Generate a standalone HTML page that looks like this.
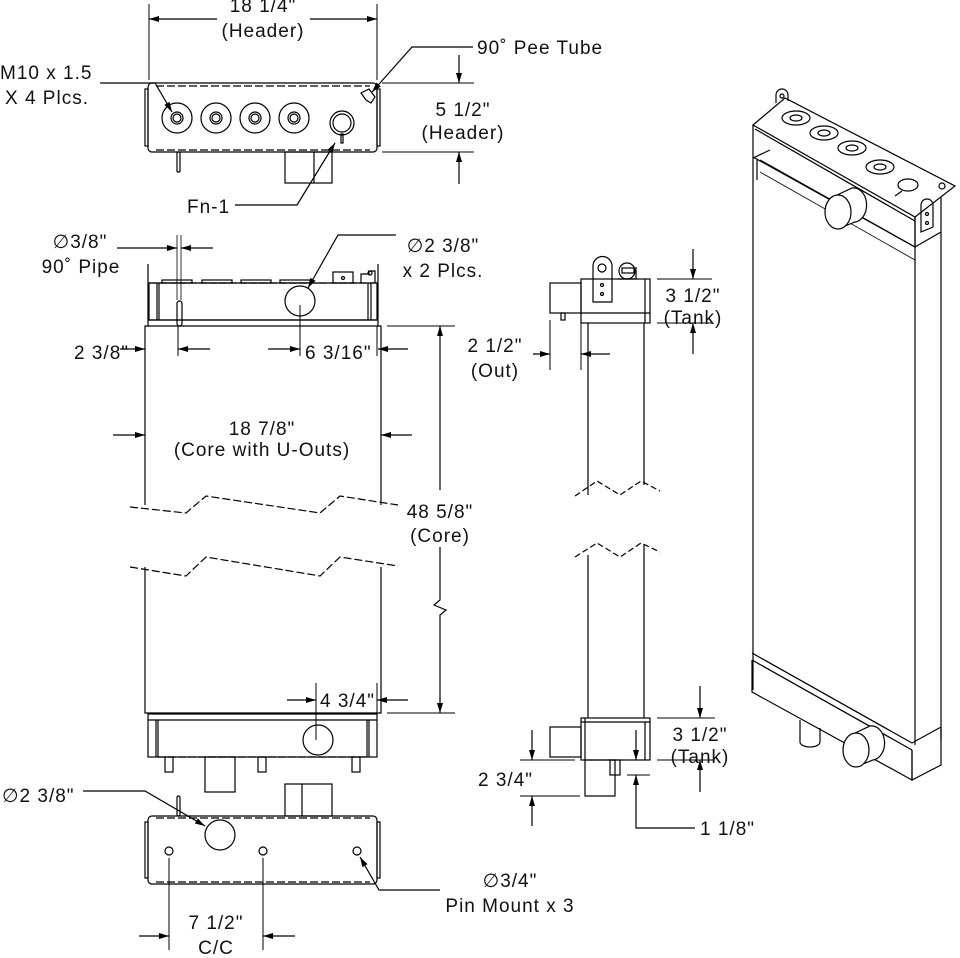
<!DOCTYPE html>
<html><head><meta charset="utf-8"><style>
html,body{margin:0;padding:0;background:#fff}
svg{display:block}
text{font-family:"Liberation Sans",sans-serif;font-size:19px;letter-spacing:1px;fill:#111}
</style></head><body>
<svg width="960" height="958" viewBox="0 0 960 958" xmlns="http://www.w3.org/2000/svg">
<defs>
<marker id="a" viewBox="0 0 10 6" refX="10" refY="3" markerWidth="14" markerHeight="6" markerUnits="userSpaceOnUse" orient="auto"><path d="M0,0L10,3L0,6z" fill="#000"/></marker>
</defs>
<g fill="none" stroke="#000" stroke-width="1.2">
<!-- TOP VIEW -->
<rect x="148" y="83" width="229" height="69" rx="4"/>
<rect x="145" y="89" width="3" height="57"/><rect x="377" y="89" width="3" height="57"/>
<line x1="156" y1="86" x2="370" y2="86" stroke-dasharray="8,3"/>
<line x1="156" y1="150" x2="370" y2="150" stroke-dasharray="8,3"/>
<circle cx="177" cy="118" r="15"/><circle cx="177" cy="118" r="6"/><circle cx="177" cy="118" r="4"/>
<circle cx="216" cy="118" r="15"/><circle cx="216" cy="118" r="6"/><circle cx="216" cy="118" r="4"/>
<circle cx="255" cy="118" r="15"/><circle cx="255" cy="118" r="6"/><circle cx="255" cy="118" r="4"/>
<circle cx="294" cy="118" r="15"/><circle cx="294" cy="118" r="6"/><circle cx="294" cy="118" r="4"/>
<circle cx="342" cy="123" r="12"/><circle cx="342" cy="123" r="9"/>
<rect x="341" y="134" width="2" height="9"/>
<path d="M361,93l8,-4l6,8l-4,6l-5,-3z"/>
<rect x="177" y="152" width="3" height="20" rx="1"/>
<rect x="285" y="152" width="47" height="31"/><line x1="314" y1="152" x2="314" y2="183"/>
<!-- top dims -->
<line x1="149" y1="4" x2="149" y2="80" stroke-width="1"/><line x1="377" y1="4" x2="377" y2="80" stroke-width="1"/>
<line x1="217" y1="19" x2="149" y2="19" marker-end="url(#a)"/>
<line x1="310" y1="19" x2="377" y2="19" marker-end="url(#a)"/>
<path d="M100,83H155L172,112" marker-end="url(#a)"/>
<path d="M473,47H412L372,92" marker-end="url(#a)"/>
<line x1="382" y1="83" x2="474" y2="83" stroke-width="1"/><line x1="382" y1="152" x2="474" y2="152" stroke-width="1"/>
<line x1="459" y1="55" x2="459" y2="83" marker-end="url(#a)"/>
<line x1="459" y1="184" x2="459" y2="152" marker-end="url(#a)"/>
<path d="M235,205H297L335,143" marker-end="url(#a)"/>

<!-- FRONT VIEW TOP TANK -->
<line x1="148" y1="264" x2="148" y2="326"/><line x1="378" y1="264" x2="378" y2="326"/>
<line x1="149" y1="283" x2="377" y2="283" stroke-dasharray="8,2"/>
<rect x="149" y="283" width="228" height="37"/>
<line x1="157" y1="283" x2="157" y2="320"/><line x1="159" y1="283" x2="159" y2="320"/>
<line x1="368" y1="283" x2="368" y2="320"/><line x1="371" y1="283" x2="371" y2="320"/>
<rect x="162" y="280" width="30" height="3"/><rect x="202" y="280" width="30" height="3"/><rect x="241" y="280" width="30" height="3"/><rect x="280" y="280" width="30" height="3"/>
<rect x="333" y="272" width="20" height="11"/><circle cx="343" cy="278" r="1.5"/>
<path d="M361,283v-9h8v-3h6v12"/><circle cx="370" cy="273" r="2"/>
<circle cx="300" cy="301" r="15"/>
<rect x="177" y="301" width="5" height="25" rx="2.5"/>
<line x1="177" y1="235" x2="177" y2="300" stroke-width="0.8"/><line x1="181" y1="235" x2="181" y2="300" stroke-width="0.8"/>
<line x1="148" y1="320" x2="378" y2="320"/>
<!-- core -->
<path d="M145,505V326H381V505"/>
<path d="M145,567V713H381V567"/>
<path d="M130,507L186,513L206,496L320,513L340,496L398,505" stroke-dasharray="8,3"/>
<path d="M130,567L186,576L206,557L320,576L340,557L398,566" stroke-dasharray="8,3"/>
<!-- bottom tank -->
<rect x="148" y="714" width="229" height="43"/>
<line x1="148" y1="720" x2="377" y2="720"/>
<line x1="156" y1="720" x2="156" y2="757"/><line x1="158" y1="720" x2="158" y2="757"/>
<line x1="367" y1="720" x2="367" y2="757"/><line x1="369" y1="720" x2="369" y2="757"/>
<line x1="158" y1="757" x2="367" y2="757" stroke-dasharray="8,2"/>
<circle cx="318" cy="740" r="15"/>
<rect x="165" y="757" width="8" height="15"/><rect x="258" y="757" width="8" height="15"/><rect x="352" y="757" width="8" height="15"/>
<rect x="205" y="757" width="30" height="35"/>
<!-- front dims -->
<line x1="117" y1="248" x2="177" y2="248" marker-end="url(#a)"/>
<line x1="213" y1="248" x2="181" y2="248" marker-end="url(#a)"/>
<path d="M396,235H338L308,288" marker-end="url(#a)"/>
<line x1="145" y1="326" x2="145" y2="356" stroke-width="1"/><line x1="178" y1="326" x2="178" y2="356" stroke-width="1"/>
<line x1="120" y1="349" x2="145" y2="349" marker-end="url(#a)"/>
<line x1="210" y1="349" x2="178" y2="349" marker-end="url(#a)"/>
<line x1="300" y1="305" x2="300" y2="356" stroke-width="1"/><line x1="377" y1="326" x2="377" y2="356" stroke-width="1"/>
<line x1="268" y1="349" x2="300" y2="349" marker-end="url(#a)"/>
<line x1="408" y1="349" x2="378" y2="349" marker-end="url(#a)"/>
<line x1="113" y1="435" x2="145" y2="435" marker-end="url(#a)"/>
<line x1="412" y1="435" x2="381" y2="435" marker-end="url(#a)"/>
<line x1="387" y1="326" x2="455" y2="326" stroke-width="1"/><line x1="387" y1="713" x2="455" y2="713" stroke-width="1"/>
<line x1="440" y1="490" x2="440" y2="326" marker-end="url(#a)"/>
<path d="M440,547V600L434,605L446,610L440,615V713" marker-end="url(#a)"/>
<line x1="316" y1="683" x2="316" y2="740" stroke-width="1"/><line x1="377" y1="683" x2="377" y2="713" stroke-width="1"/>
<line x1="287" y1="700" x2="316" y2="700" marker-end="url(#a)"/>
<line x1="408" y1="700" x2="377" y2="700" marker-end="url(#a)"/>

<!-- BOTTOM VIEW -->
<rect x="148" y="816" width="229" height="68" rx="4"/>
<rect x="145" y="822" width="3" height="56"/><rect x="377" y="822" width="3" height="56"/>
<line x1="156" y1="818" x2="370" y2="818" stroke-dasharray="8,3"/>
<line x1="156" y1="882" x2="370" y2="882" stroke-dasharray="8,3"/>
<circle cx="220" cy="835" r="15"/>
<circle cx="169" cy="851" r="4"/><circle cx="263" cy="851" r="4"/><circle cx="357" cy="851" r="4"/>
<rect x="177" y="796" width="3" height="20" rx="1.5"/>
<rect x="285" y="784" width="47" height="32"/><line x1="302" y1="784" x2="302" y2="816"/>
<path d="M83,791H145L205,826" marker-end="url(#a)"/>
<path d="M440,890H379L360,857" marker-end="url(#a)"/>
<line x1="169" y1="858" x2="169" y2="950" stroke-width="1"/><line x1="263" y1="858" x2="263" y2="950" stroke-width="1"/>
<line x1="139" y1="936" x2="169" y2="936" marker-end="url(#a)"/>
<line x1="295" y1="936" x2="263" y2="936" marker-end="url(#a)"/>

<!-- SIDE VIEW -->
<rect x="581" y="279" width="69" height="44"/>
<line x1="581" y1="313" x2="650" y2="313"/>
<line x1="645" y1="279" x2="645" y2="323"/>
<rect x="550" y="283" width="31" height="30"/>
<rect x="561" y="313" width="4" height="7"/>
<path d="M593,302V266a9,9 0 0 1 19,0V302z"/><circle cx="602" cy="268" r="4"/><circle cx="602" cy="285" r="1.5"/><circle cx="602" cy="294" r="1.5"/>
<circle cx="627" cy="271" r="8"/><rect x="622" y="268" width="12" height="5"/><path d="M618,279h18v-12"/>
<line x1="588" y1="323" x2="588" y2="495"/><line x1="644" y1="323" x2="644" y2="485"/>
<line x1="588" y1="555" x2="588" y2="718"/><line x1="644" y1="545" x2="644" y2="718"/>
<path d="M575,496L597,481L620,495L641,481L660,491" stroke-dasharray="6,3"/>
<path d="M575,557L597,543L620,557L641,543L660,552" stroke-dasharray="6,3"/>
<line x1="657" y1="279" x2="712" y2="279" stroke-width="1"/><line x1="657" y1="323" x2="712" y2="323" stroke-width="1"/>
<line x1="693" y1="249" x2="693" y2="279" marker-end="url(#a)"/>
<line x1="693" y1="354" x2="693" y2="323" marker-end="url(#a)"/>
<line x1="550" y1="320" x2="550" y2="370" stroke-width="1"/><line x1="581" y1="320" x2="581" y2="370" stroke-width="1"/>
<line x1="533" y1="354" x2="550" y2="354" marker-end="url(#a)"/>
<line x1="610" y1="354" x2="581" y2="354" marker-end="url(#a)"/>
<!-- side bottom -->
<rect x="581" y="718" width="69" height="42"/>
<line x1="581" y1="722" x2="650" y2="722"/><line x1="585" y1="718" x2="585" y2="760"/>
<line x1="645" y1="722" x2="645" y2="760"/>
<rect x="550" y="727" width="31" height="30"/>
<rect x="585" y="760" width="30" height="36"/>
<rect x="610" y="760" width="10" height="15"/>
<line x1="657" y1="718" x2="715" y2="718" stroke-width="1"/><line x1="657" y1="760" x2="715" y2="760" stroke-width="1"/>
<line x1="700" y1="686" x2="700" y2="718" marker-end="url(#a)"/>
<line x1="700" y1="792" x2="700" y2="760" marker-end="url(#a)"/>
<line x1="520" y1="760" x2="575" y2="760" stroke-width="1"/><line x1="520" y1="796" x2="580" y2="796" stroke-width="1"/>
<line x1="532" y1="730" x2="532" y2="760" marker-end="url(#a)"/>
<line x1="532" y1="826" x2="532" y2="796" marker-end="url(#a)"/>
<line x1="627" y1="775" x2="650" y2="775" stroke-width="1"/>
<line x1="636" y1="730" x2="636" y2="760" marker-end="url(#a)"/>
<path d="M695,828H636V775" marker-end="url(#a)"/>

<!-- ISOMETRIC -->
<path d="M753,125L785,98L955,186L915,217z"/>
<path d="M753,125V157L915,247V217"/>
<path d="M915,217V247L941,232V197"/>
<path d="M755,129L915,221"/>
<path d="M776,103v-8a6,6 0 0 1 12,0v6"/><circle cx="782" cy="96" r="2"/>
<ellipse cx="796" cy="118" rx="14" ry="7"/><ellipse cx="796" cy="118" rx="6" ry="3"/>
<ellipse cx="824" cy="133" rx="14" ry="7"/><ellipse cx="824" cy="133" rx="6" ry="3"/>
<ellipse cx="852" cy="148" rx="14" ry="7"/><ellipse cx="852" cy="148" rx="6" ry="3"/>
<ellipse cx="880" cy="167" rx="14" ry="7"/><ellipse cx="880" cy="167" rx="6" ry="3"/>
<ellipse cx="908" cy="185" rx="10" ry="6"/><line x1="895" y1="196" x2="902" y2="191"/>
<path d="M921,232V205a6,6 0 0 1 12,0V227z"/><circle cx="927" cy="214" r="1.5"/><circle cx="927" cy="223" r="1.5"/>
<circle cx="942" cy="186" r="3"/>
<path d="M753,157V690"/>
<path d="M757,160V180"/><path d="M753,158L770,150"/>
<path d="M915,247V745"/><path d="M941,232V740"/>
<path d="M760,160L915,247"/>
<path d="M760,172L915,260" stroke-width="0.8"/>
<!-- top cylinder -->
<path d="M835,196L852,188A13,17 0 0 1 855,222L840,228" fill="#fff"/>
<ellipse cx="838" cy="212" rx="13" ry="17" fill="#fff"/>
<path d="M752,653L912,743L941,727"/>
<path d="M752,660L912,750"/>
<path d="M752,660V692L912,780V750"/>
<path d="M912,750V780L941,765V727"/>
<path d="M800,720v22a10,5 0 0 0 20,0v-14"/>
<!-- bottom cylinder -->
<path d="M853,734L870,726A13,17 0 0 1 873,760L858,766" fill="#fff"/>
<ellipse cx="856" cy="750" rx="13" ry="17" fill="#fff"/>
</g>
<!-- TEXT -->
<g>
<text x="263" y="12" text-anchor="middle">18 1/4"</text>
<text x="263" y="37" text-anchor="middle">(Header)</text>
<text x="0" y="79">M10 x 1.5</text>
<text x="5" y="104">X 4 Plcs.</text>
<text x="477" y="54">90˚ Pee Tube</text>
<text x="463" y="116" text-anchor="middle">5 1/2"</text>
<text x="463" y="139" text-anchor="middle">(Header)</text>
<text x="187" y="213">Fn-1</text>
<text x="80" y="248" text-anchor="middle">∅3/8"</text>
<text x="81" y="273" text-anchor="middle">90˚ Pipe</text>
<text x="443" y="252" text-anchor="middle">∅2 3/8"</text>
<text x="443" y="277" text-anchor="middle">x 2 Plcs.</text>
<text x="74" y="359">2 3/8"</text>
<text x="305" y="359">6 3/16"</text>
<text x="262" y="435" text-anchor="middle">18 7/8"</text>
<text x="262" y="456" text-anchor="middle">(Core with U-Outs)</text>
<text x="440" y="518" text-anchor="middle">48 5/8"</text>
<text x="440" y="542" text-anchor="middle">(Core)</text>
<text x="320" y="707">4 3/4"</text>
<text x="2" y="802">∅2 3/8"</text>
<text x="510" y="887" text-anchor="middle">∅3/4"</text>
<text x="510" y="912" text-anchor="middle">Pin Mount x 3</text>
<text x="216" y="929" text-anchor="middle">7 1/2"</text>
<text x="216" y="954" text-anchor="middle">C/C</text>
<text x="693" y="302" text-anchor="middle">3 1/2"</text>
<text x="693" y="324" text-anchor="middle">(Tank)</text>
<text x="495" y="352" text-anchor="middle">2 1/2"</text>
<text x="495" y="377" text-anchor="middle">(Out)</text>
<text x="700" y="741" text-anchor="middle">3 1/2"</text>
<text x="700" y="763" text-anchor="middle">(Tank)</text>
<text x="478" y="786">2 3/4"</text>
<text x="700" y="835">1 1/8"</text>
</g>
</svg>
</body></html>
